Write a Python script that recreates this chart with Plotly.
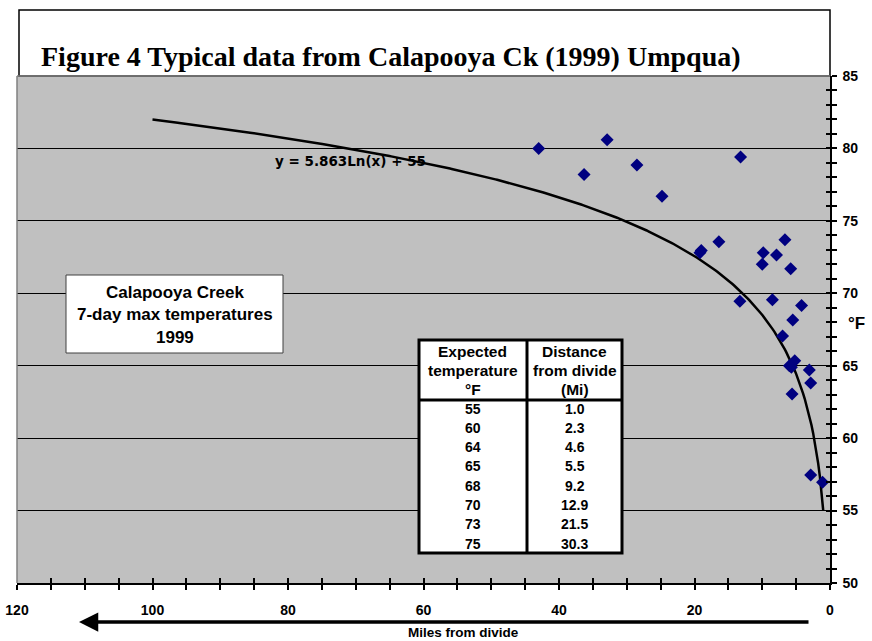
import numpy as np
import plotly.graph_objects as go

# ---- data ----
miles = [43.0, 36.3, 32.9, 28.5, 24.8, 19.2, 19.0, 16.4, 13.2, 9.85, 10.0, 7.9, 6.65, 5.8,
         13.3, 8.5, 4.2, 5.5, 7.0, 6.0, 5.2, 5.7, 3.05, 2.85, 5.6, 2.85, 1.1]
temps = [80.0, 78.2, 80.6, 78.85, 76.7, 72.8, 72.95, 73.55, 79.4, 72.8, 72.0, 72.65, 73.7, 71.7,
         69.45, 69.55, 69.15, 68.15, 67.05, 65.0, 65.35, 64.9, 64.7, 63.8, 63.05, 57.45, 56.95]

trend_a = 5.863
trend_b = 55
trend_xmin, trend_xmax = 1, 100

table_temp = ["55", "60", "64", "65", "68", "70", "73", "75"]
table_dist = ["1.0", "2.3", "4.6", "5.5", "9.2", "12.9", "21.5", "30.3"]
table_head_left = ["Expected", "temperature", "°F"]
table_head_right = ["Distance", "from divide", "(Mi)"]

title = "Figure 4 Typical data from Calapooya Ck (1999) Umpqua)"
box_lines = ["Calapooya Creek", "7-day max temperatures", "1999"]
equation = "y = 5.863Ln(x) + 55"

# ---- layout geometry (pixels) ----
W, H = 872, 641
ML, MR, MT, MB = 17, 42, 76, 58
PW, PH = W - ML - MR, H - MT - MB


def fx(px):
    return (px - ML) / PW


def fy(py):
    return (H - MB - py) / PH


SANS = "Liberation Sans, Arial, sans-serif"
SERIF = "Liberation Serif, Times New Roman, serif"
WIDE = "DejaVu Sans, Verdana, sans-serif"

tx = np.linspace(trend_xmin, trend_xmax, 400)
ty = trend_a * np.log(tx) + trend_b

fig = go.Figure()
fig.add_trace(go.Scatter(x=tx, y=ty, mode="lines", line=dict(color="black", width=2.5),
                         hoverinfo="skip", showlegend=False))
fig.add_trace(go.Scatter(x=miles, y=temps, mode="markers",
                         marker=dict(symbol="diamond", size=10, color="#000080"),
                         showlegend=False))
# invisible trace on overlay axes (for crossing ticks)
fig.add_trace(go.Scatter(x=[miles[0]], y=[temps[0]], xaxis="x2", yaxis="y2", mode="markers",
                         marker=dict(opacity=0), hoverinfo="skip", showlegend=False))

shapes = []
annotations = []

# title box
shapes.append(dict(type="rect", xref="paper", yref="paper", x0=fx(19), x1=fx(830), y0=fy(76), y1=fy(10),
                   line=dict(color="black", width=1.5), fillcolor="white", layer="below"))
# plot area top/left gray border
shapes.append(dict(type="line", xref="paper", yref="paper", x0=0, x1=1, y0=1, y1=1,
                   line=dict(color="#808080", width=1.5)))
shapes.append(dict(type="line", xref="paper", yref="paper", x0=0, x1=0, y0=0, y1=1,
                   line=dict(color="#808080", width=1.5)))

annotations.append(dict(text="<b>" + title + "</b>", xref="paper", yref="paper", x=fx(39), y=fy(56),
                        xanchor="left", yanchor="middle", showarrow=False,
                        font=dict(family=SERIF, size=28, color="black")))

# equation
annotations.append(dict(text="<b>" + equation + "</b>", xref="paper", yref="paper", x=fx(350), y=fy(161),
                        xanchor="center", yanchor="middle", showarrow=False,
                        font=dict(family=WIDE, size=13.5, color="black")))

# text box
shapes.append(dict(type="rect", xref="paper", yref="paper", x0=fx(66), x1=fx(283), y0=fy(353), y1=fy(275),
                   line=dict(color="#404040", width=1), fillcolor="white"))
for i, t in enumerate(box_lines):
    annotations.append(dict(text="<b>" + t + "</b>", xref="paper", yref="paper", x=fx(174.5),
                            y=fy(292 + 22.5 * i), xanchor="center", yanchor="middle", showarrow=False,
                            font=dict(family=SANS, size=17, color="black")))

# table
TL, TR, TT, TB, TC, TH = 419, 622, 340, 553, 527, 400
shapes.append(dict(type="rect", xref="paper", yref="paper", x0=fx(TL), x1=fx(TR), y0=fy(TB), y1=fy(TT),
                   line=dict(color="black", width=3), fillcolor="white"))
shapes.append(dict(type="line", xref="paper", yref="paper", x0=fx(TC), x1=fx(TC), y0=fy(TB), y1=fy(TT),
                   line=dict(color="black", width=3)))
shapes.append(dict(type="line", xref="paper", yref="paper", x0=fx(TL), x1=fx(TR), y0=fy(TH), y1=fy(TH),
                   line=dict(color="black", width=3)))
cl, cr = (TL + TC) / 2, (TC + TR) / 2
for i in range(3):
    for cx, txt in ((cl, table_head_left[i]), (cr, table_head_right[i])):
        annotations.append(dict(text="<b>" + txt + "</b>", xref="paper", yref="paper", x=fx(cx),
                                y=fy(351 + 19.2 * i), xanchor="center", yanchor="middle", showarrow=False,
                                font=dict(family=SANS, size=15.5, color="black")))
for i in range(len(table_temp)):
    for cx, txt in ((cl, table_temp[i]), (cr, table_dist[i])):
        annotations.append(dict(text="<b>" + txt + "</b>", xref="paper", yref="paper", x=fx(cx),
                                y=fy(408.5 + 19.3 * i), xanchor="center", yanchor="middle", showarrow=False,
                                font=dict(family=SANS, size=14, color="black")))

# °F label
annotations.append(dict(text="<b>°F</b>", xref="paper", yref="paper", x=fx(856), y=fy(323),
                        xanchor="center", yanchor="middle", showarrow=False,
                        font=dict(family=SANS, size=17, color="black")))

# arrow and x title
annotations.append(dict(text="", xref="paper", yref="paper", x=fx(79), y=fy(622), ax=810 - 79, ay=0,
                        showarrow=True, arrowhead=2, arrowsize=1.1, arrowwidth=3.5, arrowcolor="black"))
annotations.append(dict(text="<b>Miles from divide</b>", xref="paper", yref="paper", x=fx(463), y=fy(632),
                        xanchor="center", yanchor="middle", showarrow=False,
                        font=dict(family=SANS, size=13.5, color="black")))

tickfont = dict(family=SANS, size=14, color="black", weight="bold")

fig.update_layout(
    width=W, height=H, margin=dict(l=ML, r=MR, t=MT, b=MB, pad=0, autoexpand=False),
    paper_bgcolor="white", plot_bgcolor="#C0C0C0",
    showlegend=False,
    shapes=shapes, annotations=annotations,
    xaxis=dict(range=[120, 0], tick0=0, dtick=20, ticks="outside", ticklen=5, tickwidth=2,
               tickcolor="black", showgrid=False, zeroline=False, showline=True, linecolor="black",
               linewidth=2, tickfont=tickfont, ticklabelstandoff=8, automargin=False,
               minor=dict(dtick=5, ticks="outside", ticklen=5, tickwidth=2, tickcolor="black", showgrid=False)),
    yaxis=dict(range=[50, 85], side="right", tick0=50, dtick=5, ticks="outside", ticklen=5, tickwidth=1.5,
               tickcolor="black", showgrid=True, gridcolor="black", gridwidth=1, zeroline=False,
               showline=True, linecolor="black", linewidth=1.5, tickfont=tickfont, ticklabelstandoff=3,
               automargin=False,
               minor=dict(dtick=1, ticks="outside", ticklen=5, tickwidth=1.5, tickcolor="black", showgrid=False)),
    xaxis2=dict(overlaying="x", matches="x", anchor="y", ticks="inside", tick0=0, dtick=5, ticklen=5,
                tickwidth=2, tickcolor="black", showticklabels=False, showgrid=False, zeroline=False,
                showline=False, automargin=False),
    yaxis2=dict(overlaying="y", matches="y", anchor="x", side="right", ticks="inside", tick0=50, dtick=1,
                ticklen=4, tickwidth=1.5, tickcolor="black", showticklabels=False, showgrid=False,
                zeroline=False, showline=False, automargin=False),
)

fig.write_html("out.html", config={"displayModeBar": False},
               post_script="document.body.style.margin='0';document.body.style.padding='0';")
